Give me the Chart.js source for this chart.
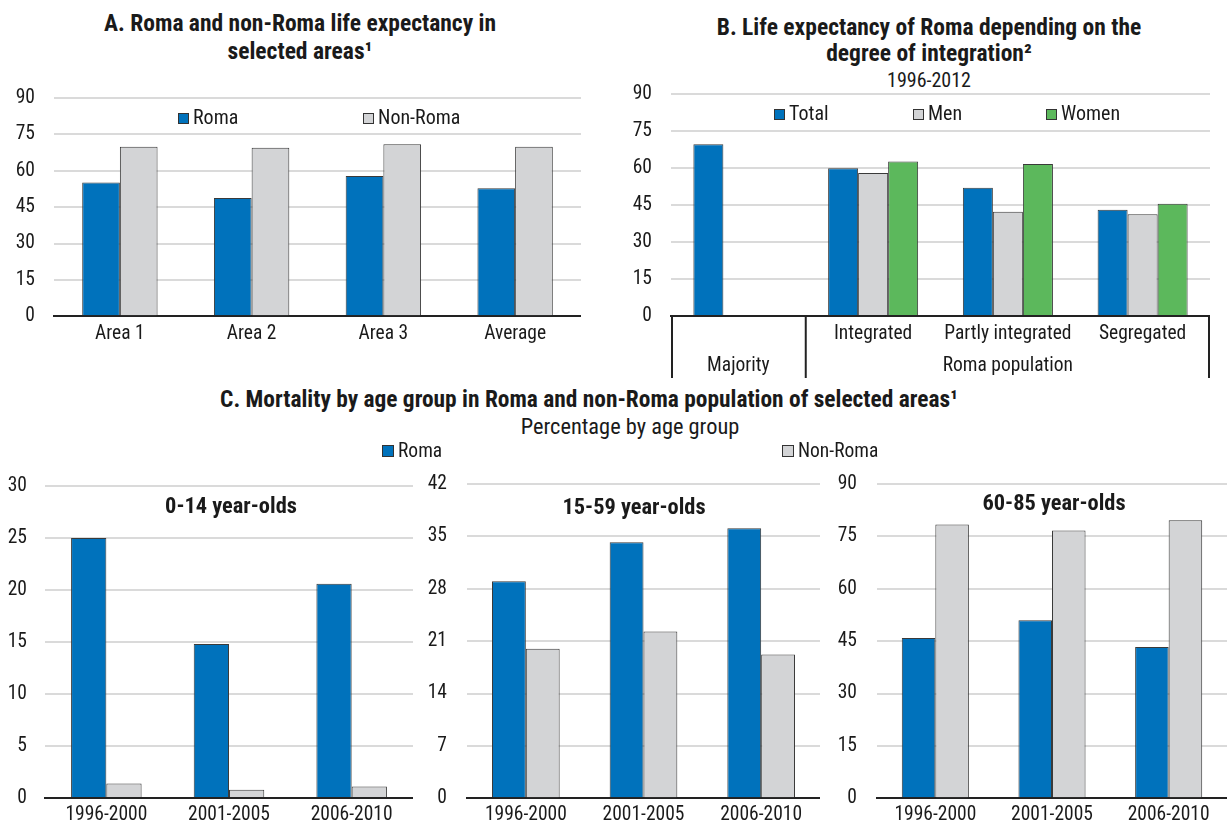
<!DOCTYPE html>
<html>
<head>
<meta charset="utf-8">
<script src="https://cdn.jsdelivr.net/npm/chart.js@4.4.1/dist/chart.umd.min.js"></script>
<style>
  body { margin: 0; width: 1227px; height: 827px; background: #fff; position: relative; overflow: hidden;
         font-family: 'Roboto Condensed', 'Liberation Sans', sans-serif; color: #1a1a1a; }
  .box { position: absolute; }
  .title { position: absolute; font-weight: bold; font-size: 23.5px; text-align: center;
           white-space: nowrap; transform: translateX(-50%); }
  .sub { position: absolute; font-size: 20px; line-height: 26px; text-align: center; white-space: nowrap; transform: translateX(-50%); }
  .leg { position: absolute; font-size: 20px; line-height: 22px; white-space: nowrap; transform: translateY(-50%); }
  .leg.c { font-size: 19.5px; }
  .sw { display: inline-block; width: 9px; height: 9px; border: 1px solid #333; margin-right: 4px; vertical-align: 0px; }
  .c .sw { width: 10px; height: 10px; }
</style>
</head>
<body>

<div class="title" style="left:300px; top:9px; line-height:28.3px;">A. Roma and non-Roma life expectancy in<br>selected areas¹</div>
<div class="title" style="left:929px; top:14px; line-height:26.3px;">B. Life expectancy of Roma depending on the<br>degree of integration²</div>
<div class="sub" style="left:929px; top:67px;">1996-2012</div>
<div class="title" style="left:589px; top:386px; line-height:26px; font-size:23.4px;">C. Mortality by age group in Roma and non-Roma population of selected areas¹</div>
<div class="sub" style="left:630px; top:413px; font-size:22.4px;">Percentage by age group</div>

<div class="box" style="left:0; top:58px; width:581px; height:289px;"><canvas id="chartA"></canvas></div>
<div class="box" style="left:617px; top:54px; width:593px; height:332px;"><canvas id="chartB"></canvas></div>
<div class="box" style="left:0; top:446px; width:413px; height:382px;"><canvas id="chartC1"></canvas></div>
<div class="box" style="left:422px; top:444px; width:398px; height:386px;"><canvas id="chartC2"></canvas></div>
<div class="box" style="left:832px; top:444px; width:395px; height:386px;"><canvas id="chartC3"></canvas></div>

<div class="leg" style="left:178px; top:117px;"><span class="sw" style="background:#0072bc"></span>Roma</div>
<div class="leg" style="left:363px; top:117px;"><span class="sw" style="background:#d3d4d6"></span>Non-Roma</div>
<div class="leg" style="left:774px; top:113px;"><span class="sw" style="background:#0072bc"></span>Total</div>
<div class="leg" style="left:913px; top:113px;"><span class="sw" style="background:#d3d4d6"></span>Men</div>
<div class="leg" style="left:1046px; top:113px;"><span class="sw" style="background:#5cb85c"></span>Women</div>
<div class="leg c" style="left:382px; top:451px;"><span class="sw" style="background:#0072bc"></span>Roma</div>
<div class="leg c" style="left:782px; top:451px;"><span class="sw" style="background:#d3d4d6"></span>Non-Roma</div>

<div class="title" style="left:231px; top:492px; line-height:26px; font-size:22.4px;">0-14 year-olds</div>
<div class="title" style="left:634px; top:493px; line-height:26px; font-size:22.4px;">15-59 year-olds</div>
<div class="title" style="left:1054px; top:489px; line-height:26px; font-size:22.4px;">60-85 year-olds</div>

<script>
// --- data ---
const areaLabels = ['Area 1', 'Area 2', 'Area 3', 'Average'];
const areaRoma = [55.2, 48.8, 57.8, 52.8];
const areaNonRoma = [69.9, 69.5, 70.9, 69.9];

const integrationLabels = [['', 'Majority'], 'Integrated', 'Partly integrated', 'Segregated'];
const integrationTotal = [69.6, 59.9, 52.0, 43.1];
const integrationMen = [null, 58.0, 42.3, 41.2];
const integrationWomen = [null, 62.6, 61.6, 45.5];
const romaGroupLabel = 'Roma population';

const periodLabels = ['1996-2000', '2001-2005', '2006-2010'];
const roma0to14 = [25.0, 14.8, 20.6];
const nonRoma0to14 = [1.4, 0.8, 1.1];
const roma15to59 = [29.0, 34.2, 36.1];
const nonRoma15to59 = [20.0, 22.3, 19.2];
const roma60to85 = [45.9, 51.0, 43.3];
const nonRoma60to85 = [78.4, 76.7, 79.6];

const BLUE = '#0072bc';
const GREY = '#d3d4d6';
const GREEN = '#5cb85c';
const EDGE = '#3a3a3a';
const FONT = "'Roboto Condensed', 'Liberation Sans', sans-serif";

Chart.defaults.font.family = FONT;
Chart.defaults.font.size = 19.5;
Chart.defaults.color = '#1a1a1a';

function barSet(label, data, color, catPct) {
    return {
        label: label,
        data: data,
        backgroundColor: color,
        borderColor: EDGE,
        borderWidth: 1,
        barPercentage: 1,
        categoryPercentage: catPct
    };
}

function makeChart(id, labels, datasets, yMax, yStep, opt) {
    return new Chart(document.getElementById(id), {
        type: 'bar',
        data: { labels: labels, datasets: datasets },
        options: {
            responsive: true,
            maintainAspectRatio: false,
            animation: false,
            // generous top padding so the y labels never push the plot down
            layout: { padding: { top: 40, right: 0, bottom: 0, left: 0 } },
            plugins: { legend: { display: false }, tooltip: { enabled: false } },
            scales: {
                x: {
                    grid: { display: false, drawTicks: false },
                    border: { color: '#222', width: 2 },
                    ticks: { padding: opt.xPad, font: { size: 19.5, lineHeight: opt.xLine || 1.2 }, maxRotation: 0, autoSkip: false },
                    afterFit: s => { s.height = opt.xH; }
                },
                y: {
                    min: 0, max: yMax,
                    border: { display: false },
                    grid: {
                        drawTicks: false,
                        lineWidth: 2,
                        color: c => c.tick && c.tick.value === 0 ? 'rgba(0,0,0,0)' : '#dadada'
                    },
                    ticks: { stepSize: yStep, padding: opt.yPad, font: { size: 19.5 } },
                    afterFit: s => { s.width = opt.yW; }
                }
            }
        },
        plugins: opt.plugins || []
    });
}

// panel A
makeChart('chartA', areaLabels, [
    barSet('Roma', areaRoma, BLUE, 0.572),
    barSet('Non-Roma', areaNonRoma, GREY, 0.572)
], 90, 15, { xPad: 6, xH: 30, yPad: 19, yW: 54 });

// panel B: second label row and the group dividers
const ROW = 31.7;
const groupRow = {
    id: 'groupRow',
    afterDraw(chart) {
        const ctx = chart.ctx;
        const x = chart.scales.x;
        const area = chart.chartArea;
        const split = (x.getPixelForValue(0) + x.getPixelForValue(1)) / 2;
        ctx.save();
        ctx.strokeStyle = '#222';
        ctx.lineWidth = 2;
        [area.left + 1, split, area.right - 1].forEach(px => {
            ctx.beginPath();
            ctx.moveTo(px, x.top);
            ctx.lineTo(px, x.top + 62);
            ctx.stroke();
        });
        ctx.fillStyle = '#1a1a1a';
        ctx.font = '19.5px ' + FONT;
        ctx.textAlign = 'center';
        ctx.textBaseline = 'middle';
        const mid = (x.getPixelForValue(1) + x.getPixelForValue(3)) / 2;
        ctx.fillText(romaGroupLabel, mid, x.top + 2.5 + ROW / 2 + ROW);
        ctx.restore();
    }
};

makeChart('chartB', integrationLabels, [
    barSet('Total', integrationTotal, BLUE, 0.668),
    barSet('Men', integrationMen, GREY, 0.668),
    barSet('Women', integrationWomen, GREEN, 0.668)
], 90, 15, { xPad: 2.5, xH: 70, xLine: ROW / 19.5, yPad: 19, yW: 54, plugins: [groupRow] });

// panel C
makeChart('chartC1', periodLabels, [
    barSet('Roma', roma0to14, BLUE, 0.575),
    barSet('Non-Roma', nonRoma0to14, GREY, 0.575)
], 30, 5, { xPad: 5, xH: 30, yPad: 18, yW: 45 });

makeChart('chartC2', periodLabels, [
    barSet('Roma', roma15to59, BLUE, 0.575),
    barSet('Non-Roma', nonRoma15to59, GREY, 0.575)
], 42, 7, { xPad: 5, xH: 30, yPad: 20, yW: 45 });

makeChart('chartC3', periodLabels, [
    barSet('Roma', roma60to85, BLUE, 0.575),
    barSet('Non-Roma', nonRoma60to85, GREY, 0.575)
], 90, 15, { xPad: 5, xH: 30, yPad: 20, yW: 45 });
</script>
</body>
</html>
